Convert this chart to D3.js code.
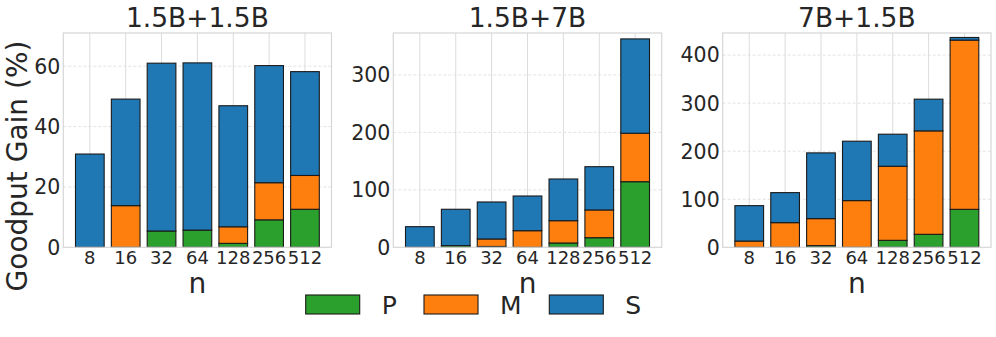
<!DOCTYPE html>
<html>
<head>
<meta charset="utf-8">
<script src="https://cdn.jsdelivr.net/npm/d3@7"></script>
<style>
  body { margin: 0; background: #fff; }
  svg text { font-family: "DejaVu Sans", sans-serif; fill: #262626; }
</style>
</head>
<body>
<svg width="996" height="337"></svg>
<script>
// chart values
var ns = ["8", "16", "32", "64", "128", "256", "512"];
var keys = ["P", "M", "S"];
var titles = ["1.5B+1.5B", "1.5B+7B", "7B+1.5B"];

var p1P = [0, 0, 5.4, 5.7, 1.3, 9.1, 12.6];
var p1M = [0, 13.8, 0, 0, 5.5, 12.3, 11.2];
var p1S = [30.9, 35.3, 55.6, 55.4, 40.1, 38.8, 34.4];

var p2P = [0, 3, 1.5, 0, 7.5, 16.7, 114.2];
var p2M = [0, 0, 13, 28.9, 38.8, 48.3, 84.3];
var p2S = [35.9, 63.2, 64.4, 60.4, 72.6, 75.3, 164.2];

var p3P = [0, 0, 3.5, 0, 14.5, 27, 79];
var p3M = [13, 51.3, 56.2, 97.2, 154.2, 215.3, 352.2];
var p3S = [73.7, 62.5, 136.8, 123.6, 66.7, 66, 5.5];

var yMax = [71, 373, 446];
var yTicks = [[0, 20, 40, 60], [0, 100, 200, 300], [0, 100, 200, 300, 400]];

var colors = { P: "#2ca02c", M: "#ff7f0e", S: "#1f77b4" };

var panels = [
	{ P: p1P, M: p1M, S: p1S, left: 63.3, right: 331.5 },
	{ P: p2P, M: p2M, S: p2S, left: 393.3, right: 661.7 },
	{ P: p3P, M: p3M, S: p3S, left: 722.7, right: 991 }
];

var plotTop = 33;
var plotBottom = 247.3;

var svg = d3.select("svg");

panels.forEach(function(p, i){
	var rows = ns.map((n, j) => ({ n: n, P: p.P[j], M: p.M[j], S: p.S[j] }));
	var series = d3.stack().keys(keys)(rows);

	var xScale = d3.scaleBand()
					.domain(ns)
					.range([p.left, p.right])
					.paddingInner(0.2)
					.paddingOuter(0.34);

	var yScale = d3.scaleLinear()
					.domain([0, yMax[i]])
					.range([plotBottom, plotTop]);

	var g = svg.append("g");

	// grid
	g.selectAll(".hgrid")
		.data(yTicks[i].filter(d => d > 0))
		.enter().append("line")
		.attr("x1", p.left).attr("x2", p.right)
		.attr("y1", d => yScale(d)).attr("y2", d => yScale(d))
		.attr("stroke", "#dcdcdc")
		.attr("stroke-width", 0.8)
		.attr("stroke-dasharray", "3,2");

	g.selectAll(".vgrid")
		.data(ns)
		.enter().append("line")
		.attr("x1", d => xScale(d) + xScale.bandwidth() / 2)
		.attr("x2", d => xScale(d) + xScale.bandwidth() / 2)
		.attr("y1", plotTop).attr("y2", plotBottom)
		.attr("stroke", "#dcdcdc")
		.attr("stroke-width", 1);

	// bars
	series.forEach(function(s){
		g.selectAll(".bar-" + s.key)
			.data(s.filter(d => d[1] - d[0] > 0))
			.enter().append("rect")
			.attr("x", d => xScale(d.data.n))
			.attr("y", d => yScale(d[1]))
			.attr("width", xScale.bandwidth())
			.attr("height", d => yScale(d[0]) - yScale(d[1]))
			.attr("fill", colors[s.key])
			.attr("stroke", "#1a1a1a")
			.attr("stroke-width", 1.1);
	});

	// frame
	g.append("rect")
		.attr("x", p.left).attr("y", plotTop)
		.attr("width", p.right - p.left).attr("height", plotBottom - plotTop)
		.attr("fill", "none")
		.attr("stroke", "#d6d6d6")
		.attr("stroke-width", 1.2);

	// tick labels
	g.selectAll(".ytick")
		.data(yTicks[i])
		.enter().append("text")
		.attr("x", p.left - 3)
		.attr("y", d => yScale(d))
		.attr("dy", "0.36em")
		.attr("text-anchor", "end")
		.style("font-size", "20.5px")
		.text(d => d);

	g.selectAll(".xtick")
		.data(ns)
		.enter().append("text")
		.attr("x", d => xScale(d) + xScale.bandwidth() / 2)
		.attr("y", 263.5)
		.attr("text-anchor", "middle")
		.style("font-size", "18px")
		.text(d => d);

	g.append("text")
		.attr("x", (p.left + p.right) / 2)
		.attr("y", 27)
		.attr("text-anchor", "middle")
		.style("font-size", "26.5px")
		.text(titles[i]);

	g.append("text")
		.attr("x", (p.left + p.right) / 2)
		.attr("y", 293)
		.attr("text-anchor", "middle")
		.style("font-size", "28px")
		.text("n");
});

svg.append("text")
	.attr("transform", "translate(27,166) rotate(-90)")
	.attr("text-anchor", "middle")
	.style("font-size", "28px")
	.text("Goodput Gain (%)");

// legend
var legendX = [305.7, 424, 549.3];
var leg = svg.selectAll(".legend")
	.data(keys)
	.enter().append("g");

leg.append("rect")
	.attr("x", (d, i) => legendX[i])
	.attr("y", 295)
	.attr("width", 54)
	.attr("height", 19)
	.attr("fill", d => colors[d])
	.attr("stroke", "#1a1a1a")
	.attr("stroke-width", 1.1);

leg.append("text")
	.attr("x", (d, i) => legendX[i] + 76)
	.attr("y", 314)
	.style("font-size", "25px")
	.text(d => d);
</script>
</body>
</html>
